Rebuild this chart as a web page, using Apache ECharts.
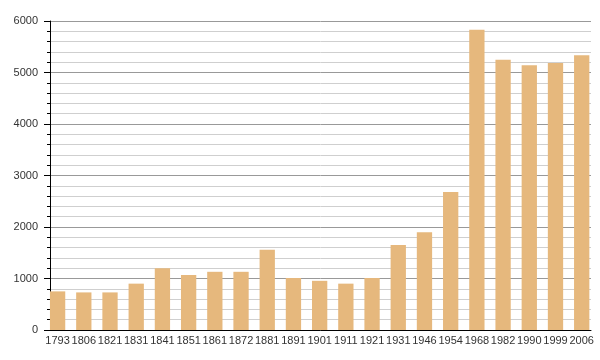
<!DOCTYPE html>
<html><head><meta charset="utf-8">
<script src="https://cdn.jsdelivr.net/npm/echarts@6/dist/echarts.min.js"></script>
<style>html,body{margin:0;padding:0;background:#fff}#c{width:600px;height:360px}</style>
</head><body><div id="c"></div>
<script>
var years = ['1793','1806','1821','1831','1841','1851','1861','1872','1881','1891','1901','1911','1921','1931','1946','1954','1968','1982','1990','1999','2006'];
var population = [750,730,730,900,1200,1070,1130,1130,1560,1010,955,900,1010,1650,1900,2680,5830,5250,5140,5185,5335];
var chart = echarts.init(document.getElementById('c'), null, {renderer:'canvas'});
var font = 'Liberation Sans';
chart.setOption({
  animation:false,
  grid:[
    {left:50,right:9,top:21,bottom:30,containLabel:false},
    {left:44.5,right:5.2,top:21,bottom:30,containLabel:false}
  ],
  xAxis:[
    {type:'category',gridIndex:0,data:years,
      axisLine:{lineStyle:{color:'#000',width:1}},
      axisTick:{show:false},axisLabel:{show:false}},
    {type:'category',gridIndex:1,data:years,
      axisLine:{show:false},axisTick:{show:false},
      axisLabel:{color:'#333',fontFamily:font,fontSize:11,margin:5,interval:0}}
  ],
  yAxis:[
    {type:'value',gridIndex:0,min:0,max:6000,interval:1000,
      axisLine:{show:true,lineStyle:{color:'#000',width:1}},
      axisTick:{show:true,length:6,lineStyle:{color:'#000'}},
      minorTick:{show:true,splitNumber:5,length:3,lineStyle:{color:'#000'}},
      splitLine:{show:true,lineStyle:{color:'#999',width:1}},
      minorSplitLine:{show:true,lineStyle:{color:'#cfcfcf',width:1}},
      axisLabel:{color:'#333',fontFamily:font,fontSize:11,margin:12,formatter:function(v){return String(v);}}
    },
    {type:'value',gridIndex:1,min:0,max:6000,interval:1000,show:false,splitLine:{show:false}}
  ],
  series:[{type:'bar',xAxisIndex:1,yAxisIndex:1,data:population,barWidth:15.3,itemStyle:{color:'#e6b87d'}}]
});
</script></body></html>
